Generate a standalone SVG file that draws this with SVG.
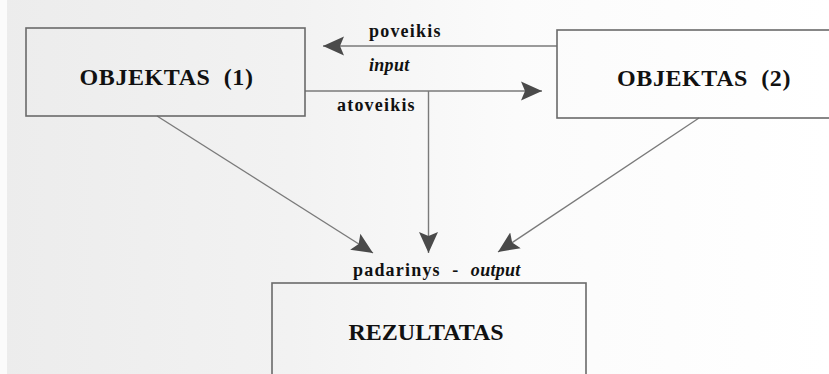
<svg xmlns="http://www.w3.org/2000/svg" width="829" height="374" viewBox="0 0 829 374">
  <style>
    .box { fill: none; stroke: #6a6a6a; stroke-width: 1.6; }
    .title { font-family: "Liberation Serif", "Times New Roman", serif; font-weight: bold; font-size: 24px; fill: #111; }
    .lbl { font-family: "Liberation Serif", "Times New Roman", serif; font-weight: bold; font-size: 18px; letter-spacing: 1.2px; fill: #111; }
    .it { font-style: italic; letter-spacing: 0.3px; }
    .conn { fill: none; stroke: #7a7a7a; stroke-width: 1.4; marker-end: url(#head); }
  </style>
  <defs>
    <linearGradient id="paper" x1="0" y1="0" x2="1" y2="0">
      <stop offset="0" stop-color="#ececec"/>
      <stop offset="0.35" stop-color="#f2f2f2"/>
      <stop offset="0.62" stop-color="#fbfbfb"/>
      <stop offset="1" stop-color="#ffffff"/>
    </linearGradient>
    <marker id="head" markerUnits="userSpaceOnUse" markerWidth="22" markerHeight="20" viewBox="0 -10 22 20" refX="21" refY="0" orient="auto">
      <path d="M0,-9.5 L21,0 L0,9.5 L4,0 z" fill="#4a4a4a"/>
    </marker>
  </defs>

  <!-- paper -->
  <rect x="0" y="0" width="829" height="374" fill="url(#paper)"/>
  <rect x="0" y="0" width="7" height="374" fill="#fbfbfb"/>

  <!-- connectors -->
  <g id="connectors">
    <path class="conn" d="M557,46 L323,46"/>
    <path class="conn" d="M305,91 L542,91"/>
    <path class="conn" d="M428.5,91 L428.5,253"/>
    <path class="conn" d="M157,116 L373,253"/>
    <path class="conn" d="M699,118 L498,252"/>
  </g>

  <!-- connector labels -->
  <g id="labels">
    <text class="lbl" x="369" y="37">poveikis</text>
    <text class="lbl it" x="369" y="71">input</text>
    <text class="lbl" x="337" y="111">atoveikis</text>
    <text class="lbl" x="353" y="276" letter-spacing="0.9">padarinys&#160; -&#160; <tspan class="it">output</tspan></text>
  </g>

  <g id="objektas1">
    <rect class="box" x="26" y="28" width="279" height="88"/>
    <text class="title" x="79.5" y="84.5" letter-spacing="0.6">OBJEKTAS&#160; (1)</text>
  </g>

  <g id="objektas2">
    <rect class="box" x="557" y="30" width="290" height="88"/>
    <text class="title" x="617" y="85.5" letter-spacing="0.6">OBJEKTAS&#160; (2)</text>
  </g>

  <g id="rezultatas">
    <rect class="box" x="272" y="283" width="314" height="110"/>
    <text class="title" x="348.5" y="340">REZULTATAS</text>
  </g>
</svg>
